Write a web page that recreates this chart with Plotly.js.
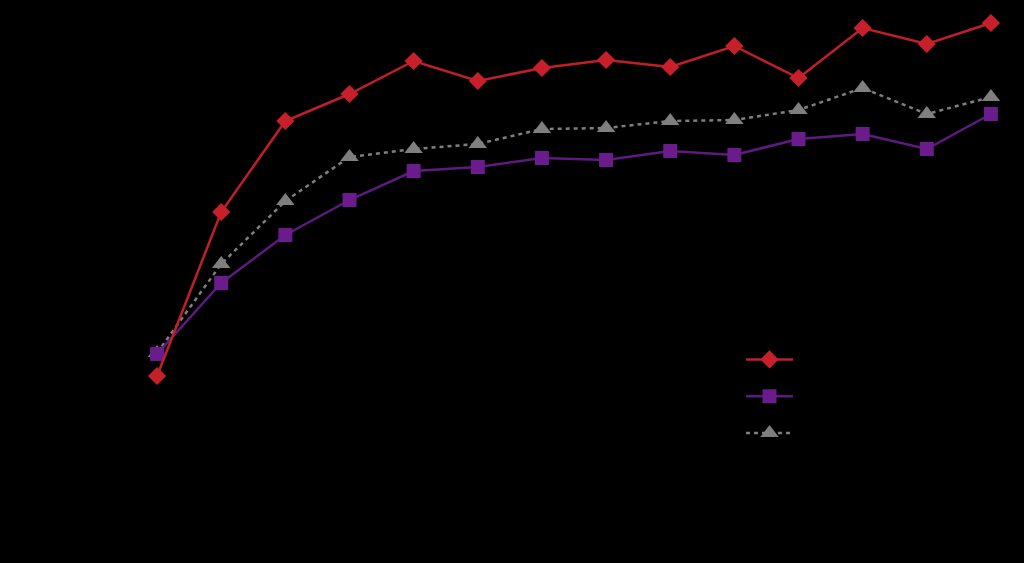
<!DOCTYPE html>
<html>
<head>
<meta charset="utf-8">
<script src="https://cdn.plot.ly/plotly-3.0.1.min.js"></script>
<style>html,body{margin:0;padding:0;background:#000;}#chart{width:1024px;height:563px;}</style>
</head>
<body>
<div id="chart"></div>
<script>
const categories = [1, 2, 3, 4, 5, 6, 7, 8, 9, 10, 11, 12, 13, 14];
const seriesRed = [24.8, 57.6, 75.8, 81.2, 87.8, 83.8, 86.4, 88.0, 86.6, 90.8, 84.4, 94.4, 91.2, 95.4];
const seriesPurple = [29.2, 43.4, 53.0, 60.0, 65.8, 66.6, 68.4, 68.0, 69.8, 69.0, 72.2, 73.2, 70.2, 77.2];
const seriesGray = [29.4, 47.2, 59.8, 68.6, 70.2, 71.2, 74.2, 74.4, 75.8, 76.0, 78.0, 82.4, 77.2, 80.6];
const seriesNames = ['Series 1', 'Series 2', 'Series 3'];

const traces = [
  {x: categories, y: seriesGray, name: seriesNames[2], type: 'scatter', mode: 'lines+markers',
   line: {color: '#7f7f7f', width: 2.5, dash: '4px,4px'},
   marker: {symbol: 'triangle-up', size: 16, color: '#7f7f7f'}, legendgroup: 'c', legendrank: 3},
  {x: categories, y: seriesPurple, name: seriesNames[1], type: 'scatter', mode: 'lines+markers',
   line: {color: '#5e1a80', width: 2.5},
   marker: {symbol: 'square', size: 14, color: '#6a1b8c'}, legendgroup: 'b', legendrank: 2},
  {x: categories, y: seriesRed, name: seriesNames[0], type: 'scatter', mode: 'lines+markers',
   line: {color: '#c01f2a', width: 2.5},
   marker: {symbol: 'diamond', size: 14, color: '#c8202b'}, legendgroup: 'a', legendrank: 1}
];

const layout = {
  width: 1024, height: 563,
  paper_bgcolor: '#000', plot_bgcolor: '#000',
  margin: {l: 125, r: 1, t: 0, b: 63},
  font: {color: '#000', family: 'Liberation Sans, Arial, sans-serif'},
  xaxis: {range: [0.5, 14.5], showgrid: false, zeroline: false, showline: false,
          tickfont: {color: '#000'}, ticks: ''},
  yaxis: {range: [0, 100], showgrid: false, zeroline: false, showline: false,
          tickfont: {color: '#000'}, ticks: ''},
  legend: {x: 0.686, y: 0.207, xanchor: 'left', yanchor: 'middle',
           traceorder: 'grouped', tracegroupgap: 13,
           font: {size: 16, color: '#000'}, bgcolor: 'rgba(0,0,0,0)', itemwidth: 47},
  showlegend: true
};

Plotly.newPlot('chart', traces, layout, {displayModeBar: false, staticPlot: true});
</script>
</body>
</html>
